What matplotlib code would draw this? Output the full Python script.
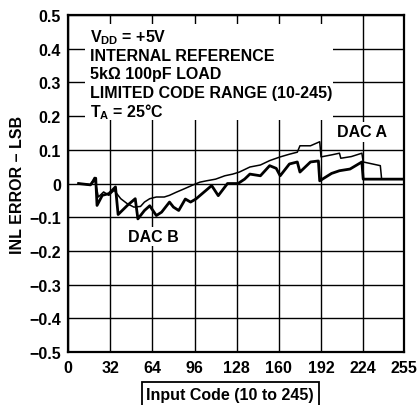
import matplotlib

matplotlib.use("Agg")

import matplotlib.pyplot as plt
from matplotlib.patches import Rectangle

plt.rcParams["font.family"] = ["Liberation Sans", "DejaVu Sans"]
plt.rcParams["font.weight"] = "bold"
plt.rcParams["mathtext.fontset"] = "custom"
plt.rcParams["mathtext.rm"] = "Liberation Sans:bold"
plt.rcParams["mathtext.bf"] = "Liberation Sans:bold"

# upper (thin) trace
dac_a_code = [8, 17, 20, 22, 23, 27, 31, 35, 40, 45, 50, 55, 58, 62, 67, 73, 77, 82, 88,
              95, 100, 105, 112, 119, 125, 130, 138, 146, 153, 161, 168, 174, 176, 184,
              191, 192, 200, 206, 207, 215, 223, 224, 237, 238, 254]
dac_a_inl = [0.0, -0.004, 0.018, -0.02, -0.04, -0.025, -0.035, -0.02, -0.045, -0.06, -0.07,
             -0.068, -0.055, -0.045, -0.04, -0.04, -0.035, -0.026, -0.016, -0.004, 0.004,
             0.008, 0.013, 0.023, 0.028, 0.034, 0.049, 0.055, 0.068, 0.079, 0.087, 0.093,
             0.112, 0.112, 0.124, 0.079, 0.085, 0.09, 0.075, 0.08, 0.09, 0.064, 0.053,
             0.013, 0.013]

# lower (thick) trace
dac_b_code = [8, 17, 21, 22, 26, 31, 36, 38, 45, 51, 53, 58, 62, 67, 71, 77, 80, 84, 89,
              93, 97, 106, 109, 114, 121, 129, 134, 138, 146, 153, 158, 161, 168, 174,
              176, 184, 190, 191, 200, 206, 214, 223, 224, 254]
dac_b_inl = [0.0, -0.004, 0.016, -0.065, -0.035, -0.03, -0.01, -0.092, -0.065, -0.045,
             -0.105, -0.08, -0.066, -0.095, -0.085, -0.055, -0.07, -0.08, -0.046, -0.055,
             -0.046, -0.016, -0.006, -0.036, 0.0, 0.0, 0.013, 0.028, 0.023, 0.053, 0.045,
             0.023, 0.058, 0.064, 0.034, 0.064, 0.067, 0.008, 0.03, 0.038, 0.043, 0.064,
             0.013, 0.013]

x_ticks = [0, 32, 64, 96, 128, 160, 192, 224, 255]
y_ticks = [-0.5, -0.4, -0.3, -0.2, -0.1, 0, 0.1, 0.2, 0.3, 0.4, 0.5]
y_tick_labels = ["\u22120.5", "\u22120.4", "\u22120.3", "\u22120.2", "\u22120.1", "0",
                 "0.1", "0.2", "0.3", "0.4", "0.5"]

notes = ["V$_{\\mathrm{DD}}$ = +5V", "INTERNAL REFERENCE", "5k\u03a9 100pF LOAD",
         "LIMITED CODE RANGE (10-245)", "T$_{\\mathrm{A}}$ = 25\u00b0C"]

FS = 11.5

fig = plt.figure(figsize=(4.2, 4.06), dpi=100)
ax = fig.add_axes([0.162, 0.1305, 0.8, 0.83])

ax.set_xlim(0, 255)
ax.set_ylim(-0.5, 0.5)
ax.set_xticks(x_ticks)
ax.set_yticks(y_ticks)
ax.set_yticklabels(y_tick_labels)
ax.tick_params(axis="y", length=0, labelsize=FS, pad=5)
ax.tick_params(axis="x", length=0, labelsize=FS, pad=6)
for lab in ax.get_xticklabels() + ax.get_yticklabels():
    lab.set_fontweight("bold")

ax.grid(True, color="black", linewidth=1.0, zorder=1)
ax.set_axisbelow(True)
for sp in ax.spines.values():
    sp.set_linewidth(1.6)

ax.plot(dac_a_code, dac_a_inl, color="black", linewidth=1.1, zorder=3)
ax.plot(dac_b_code, dac_b_inl, color="black", linewidth=2.0, zorder=3)

# white box behind conditions text
ax.add_patch(Rectangle((13, 0.188), 188, 0.285, transform=ax.transData,
                       facecolor="white", edgecolor="none", zorder=2))
y0 = 0.435
for i, line in enumerate(notes):
    ax.text(16.7, y0 - i * 0.0549, line, fontsize=FS, fontweight="bold",
            va="center", ha="left", zorder=4)

ax.text(223, 0.153, "DAC A", fontsize=FS, fontweight="bold", ha="center", va="center",
        zorder=4, bbox=dict(facecolor="white", edgecolor="none", pad=1.5))
ax.text(64.5, -0.156, "DAC B", fontsize=FS, fontweight="bold", ha="center", va="center",
        zorder=4, bbox=dict(facecolor="white", edgecolor="none", pad=1.5))

ax.set_ylabel("INL ERROR \u2013 LSB", fontsize=FS, fontweight="bold")
ax.yaxis.set_label_coords(-0.128, 0.5)
fig.text(0.548, 0.027, "Input Code (10 to 245)", fontsize=FS, fontweight="bold",
         ha="center", va="center",
         bbox=dict(facecolor="white", edgecolor="black", linewidth=1.3, pad=3.5))

fig.savefig("out.png", dpi=100)
